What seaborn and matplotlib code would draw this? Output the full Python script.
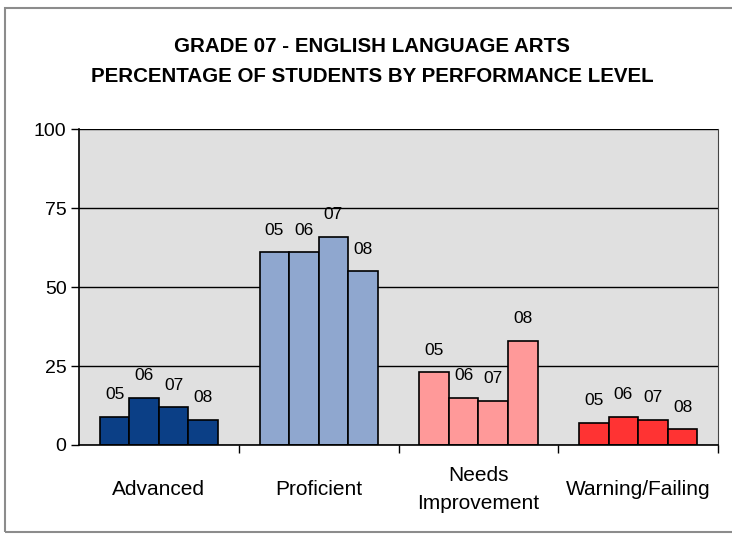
# Grade 07 ELA - percentage of students by performance level, 2005-2008

import seaborn as sns
import matplotlib.pyplot as plt
import matplotlib.patches as mpatches
import pandas as pd

levels = ['Advanced', 'Proficient', 'Needs\nImprovement', 'Warning/Failing']
years = ['05', '06', '07', '08']

advanced = [9, 15, 12, 8]
proficient = [61, 61, 66, 55]
needs_improvement = [23, 15, 14, 33]
warning_failing = [7, 9, 8, 5]

level_colors = ['#0B3F86', '#8FA7CF', '#FF9999', '#FF3333']

rows = []
for level, vals in zip(levels, [advanced, proficient, needs_improvement, warning_failing]):
    for yr, v in zip(years, vals):
        rows.append({'level': level, 'year': yr, 'pct': v})
df = pd.DataFrame(rows)

sns.set_style("white")
plt.rcParams['font.family'] = ['Liberation Sans', 'DejaVu Sans']
plt.rcParams['text.color'] = 'black'
plt.rcParams['xtick.color'] = 'black'
plt.rcParams['ytick.color'] = 'black'

fig = plt.figure(figsize=(7.32, 5.34), dpi=100)
ax = fig.add_axes([0.108, 0.1667, 0.873, 0.591])
ax.set_facecolor('#E0E0E0')

sns.barplot(data=df, x='level', y='pct', hue='year', order=levels, hue_order=years,
            width=0.74, gap=0, edgecolor='black', linewidth=1.2, legend=False, ax=ax)

# every bar in a group takes the colour of its performance level
for cont, yr in zip(ax.containers, years):
    for bar, col in zip(cont, level_colors):
        bar.set_facecolor(col)
    ax.bar_label(cont, labels=[yr] * len(cont), padding=10.5, fontsize=12.5, color='black')

ax.set_ylim(0, 100)
ax.set_xlim(-0.5, 3.5)
ax.set_yticks([0, 25, 50, 75, 100])
ax.yaxis.grid(True, color='black', linewidth=1)
ax.set_axisbelow(True)
ax.tick_params(axis='y', length=6, width=1, color='black', labelcolor='black',
               labelsize=14, pad=3, left=True)
ax.tick_params(axis='x', which='major', length=0, labelcolor='black', labelsize=15, pad=32)
ax.set_xticks([0.5, 1.5, 2.5, 3.5], minor=True)
ax.tick_params(axis='x', which='minor', length=6, width=1, color='black', bottom=True)
for lbl in ax.get_xticklabels():
    lbl.set_va('center')
    lbl.set_linespacing(1.6)
ax.set_xlabel('')
ax.set_ylabel('')

for side in ['left', 'bottom']:
    ax.spines[side].set_color('black')
    ax.spines[side].set_linewidth(1.2)
ax.spines['top'].set_visible(False)
ax.spines['right'].set_color('#444444')

fig.text(0.508, 0.885, 'GRADE 07 - ENGLISH LANGUAGE ARTS\nPERCENTAGE OF STUDENTS BY PERFORMANCE LEVEL',
         ha='center', va='center', fontsize=14.8, fontweight='bold', linespacing=1.75,
         color='black')

# outer chart frame
fig.patches.append(mpatches.Rectangle((0.007, 0.004), 1.1, 0.981, transform=fig.transFigure,
                                      fill=False, edgecolor='#8C8C8C', linewidth=1.5))

fig.savefig('out.png', dpi=100)
